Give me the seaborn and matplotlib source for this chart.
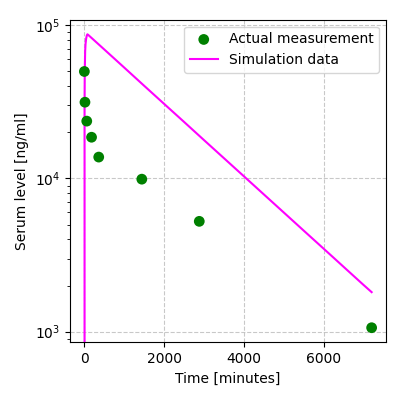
import numpy as np
import pandas as pd
import matplotlib
matplotlib.use('Agg')
import matplotlib.pyplot as plt
import seaborn as sns

# 실측값
meas_time = [0, 15, 60, 180, 360, 1440, 2880, 7200]
meas_level = [50000, 31500, 23700, 18600, 13800, 9900, 5250, 1060]

# 시뮬레이션 값
sim_time = [0, 5, 10, 20, 30, 45, 60, 75, 100, 500, 1000, 1500, 2000, 2500,
            3000, 3500, 4000, 4500, 5000, 5500, 6000, 6500, 7000, 7200]
sim_level = [0, 30000, 50000, 68000, 76000, 82000, 85500, 87500, 86500,
             69600, 53000, 40300, 30700, 23400, 17800, 13560, 10330, 7865,
             5990, 4560, 3475, 2645, 2014, 1810]

meas = pd.DataFrame({'time': meas_time, 'level': meas_level})
sim = pd.DataFrame({'time': sim_time, 'level': sim_level})

fig, ax = plt.subplots(figsize=(4, 4), dpi=100)
ax.set_yscale('log')

sns.scatterplot(data=meas, x='time', y='level', color='green', s=60,
                edgecolor='none', label='Actual measurement', ax=ax, zorder=3)
sns.lineplot(data=sim, x='time', y='level', color='magenta', linewidth=1.5,
             estimator=None, sort=False, label='Simulation data', ax=ax)

ax.grid(True, which='major', linestyle='--', color='#bbbbbb', alpha=0.8)
ax.set_xlabel('Time [minutes]')
ax.set_ylabel('Serum level [ng/ml]')
ax.set_xticks([0, 2000, 4000, 6000])
ax.legend(loc='upper right')

plt.subplots_adjust(left=0.175, right=0.965, top=0.951, bottom=0.144)
plt.savefig('out.png')
